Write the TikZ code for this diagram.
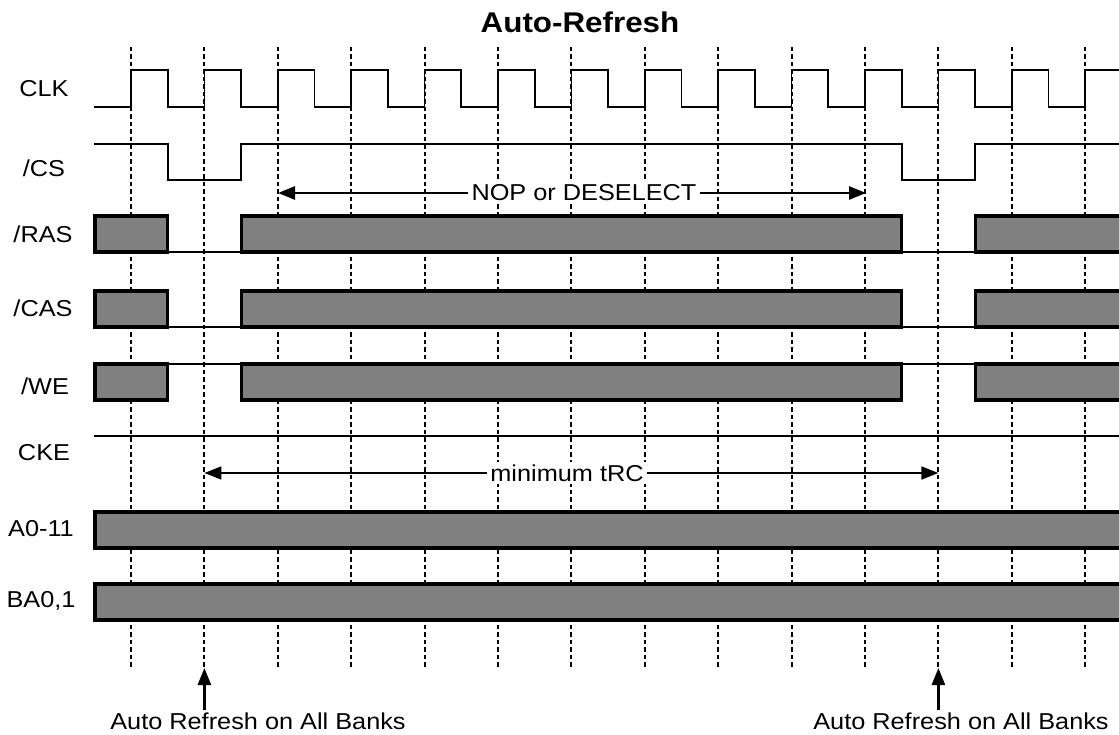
\documentclass[tikz,border=0pt]{standalone}
\usepackage{fontspec}
\setmainfont{Liberation Sans}[FakeStretch=1.1]
\usepackage{xcolor}
\usetikzlibrary{arrows.meta}
\definecolor{busgray}{RGB}{128,128,128}
\newcommand{\sigfont}{\fontsize{23}{27}\selectfont}

\begin{document}
\begin{tikzpicture}[
    x                   = 1pt,
    y                   = -1pt,
    every node/.style   = {font=\sigfont, inner sep=2pt},
    tickline/.style     = {draw, dash pattern=on 4.5pt off 3pt, line width=1.9pt},
    wave/.style         = {draw, line width=1.7pt},
    busbox/.style       = {draw, fill=busgray, line width=3.1pt},
    timearrow/.style    = {-{Triangle[length=17pt,width=13pt]}},
    spanlabel/.style    = {fill=white, inner sep=3pt}
  ]
\useasboundingbox (0,0) rectangle (1119,735);

% clock edges
\foreach \k in {0,...,13}
  \draw[tickline] ({131+73.4*\k},47) -- ({131+73.4*\k},668);

\node (title) at (580,22) {\fontsize{28.5}{32}\selectfont\bfseries Auto-Refresh};

% signal names
\node (lclk)  at (44,89)  {CLK};
\node (lcs)   at (44,168) {/CS};
\node (lras)  at (43,234) {/RAS};
\node (lcas)  at (43,308) {/CAS};
\node (lwe)   at (45,386) {/WE};
\node (lcke)  at (44,453) {CKE};
\node (laddr) at (41,529) {A0-11};
\node (lbank) at (41,601) {BA0,1};

% CLK and /CS
\draw[wave] (94,107) foreach \k in {0,...,12} {
    -- ({131+73.4*\k},107) -- ++(0,-37) -- ++(36.7,0) -- ++(0,37) }
  -- (1085.2,107) -- ++(0,-37) -- (1119,70);
\draw[wave] (94,144) -- (167.7,144) -- (167.7,180) -- (241.1,180) -- (241.1,144)
  -- (901.7,144) -- (901.7,180) -- (975.1,180) -- (975.1,144) -- (1119,144);

% /RAS, /CAS, /WE
\foreach \yt/\yg in {216/252, 291/327, 364/364} {
  \draw[wave] (167.7,\yg) -- (241.1,\yg) (901.7,\yg) -- (975.1,\yg);
  \draw[busbox] (95,\yt) rectangle (167.7,{\yt+36});
  \draw[busbox] (241.1,\yt) rectangle (901.7,{\yt+36});
  \draw[busbox] (975.1,\yt) rectangle (1126,{\yt+36});
}

% CKE, address and bank
\draw[wave] (94,436) -- (1119,436);
\draw[busbox] (95,512) rectangle (1126,548);
\draw[busbox] (95,584) rectangle (1126,620);

% NOP span
\node[spanlabel] (nop) at (584,193) {NOP or DESELECT};
\coordinate (nopL) at (278,193);
\coordinate (nopR) at (866,193);
\draw[timearrow, line width=2.6pt] (nop.west) -- (nopL);
\draw[timearrow, line width=2.6pt] (nop.east) -- (nopR);

% tRC span
\node[spanlabel] (trc) at (567,473) {minimum tRC};
\coordinate (trcL) at (204.4,473);
\coordinate (trcR) at (938.4,473);
\draw[timearrow, line width=1.7pt] (trc.west) -- (trcL);
\draw[timearrow, line width=1.7pt] (trc.east) -- (trcR);

% refresh commands
\node (refL) at (258,721) {Auto Refresh on All Banks};
\node (refR) at (961,721) {Auto Refresh on All Banks};
\coordinate (tipL) at (204.4,668);
\coordinate (tipR) at (938.4,668);
\draw[timearrow, line width=2.6pt] (refL.north -| tipL) -- (tipL);
\draw[timearrow, line width=2.6pt] (refR.north -| tipR) -- (tipR);
\end{tikzpicture}
\end{document}
